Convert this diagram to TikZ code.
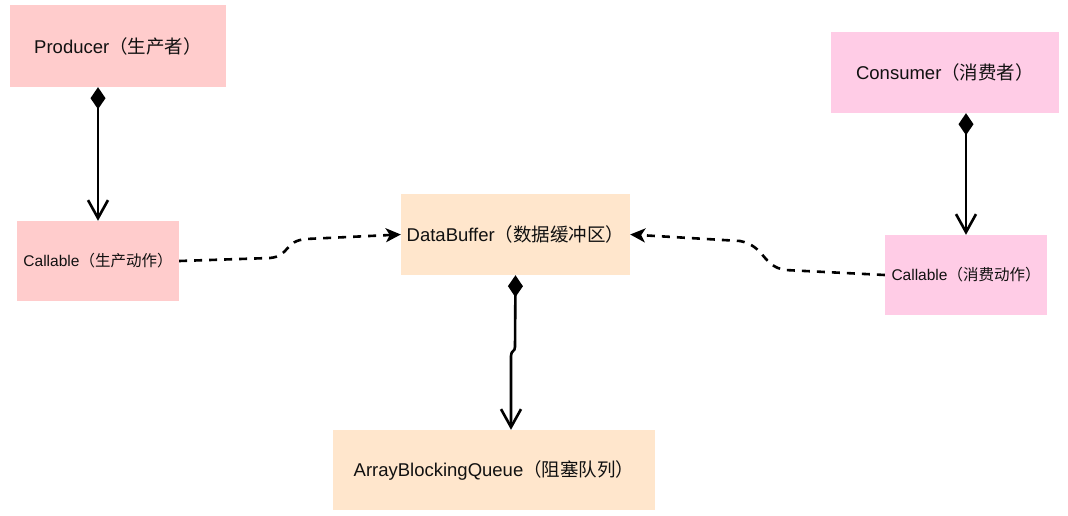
\documentclass[tikz,border=0pt]{standalone}
\usepackage{fontspec}
\setmainfont{Liberation Sans}
\newfontfamily\cjk{Noto Sans CJK SC}
\usetikzlibrary{arrows.meta}
\definecolor{prodfill}{HTML}{FFCCCC}
\definecolor{consfill}{HTML}{FFCCE6}
\definecolor{buffill}{HTML}{FFE6CC}
\definecolor{txt}{HTML}{111111}
\tikzset{
  box/.style={draw=none, inner sep=0pt, text=txt, align=center},
  bigtxt/.style={font=\fontsize{18.5}{21}\selectfont},
  smalltxt/.style={font=\fontsize{15.5}{18}\selectfont},
  comp/.style={line width=2.6pt, {Diamond[length=22pt,width=15pt,fill=black]}-{Straight Barb[length=18pt,width=20pt]}},
  dep/.style={line width=2.6pt, dash pattern=on 8pt off 7pt, -{Stealth[length=15pt,width=14pt,inset=4pt]}}
}
\begin{document}
\begin{tikzpicture}[x=1pt,y=-1pt]
\useasboundingbox (0,0) rectangle (1068,516);
\node[box,bigtxt,fill=prodfill,minimum width=216pt,minimum height=82pt] (producer) at (118,46) {Producer{\cjk（生产者）}};
\node[box,smalltxt,fill=prodfill,minimum width=162pt,minimum height=80pt] (callL) at (98,261) {Callable{\cjk（生产动作）}};
\node[box,bigtxt,fill=consfill,minimum width=228pt,minimum height=81pt] (consumer) at (945,72.5) {Consumer{\cjk（消费者）}};
\node[box,smalltxt,fill=consfill,minimum width=162pt,minimum height=80pt] (callR) at (966,275) {Callable{\cjk（消费动作）}};
\node[box,bigtxt,fill=buffill,minimum width=229pt,minimum height=81pt] (buffer) at (515.5,234.5) {DataBuffer{\cjk（数据缓冲区）}};
\node[box,bigtxt,fill=buffill,minimum width=322pt,minimum height=80pt] (abq) at (494,470) {ArrayBlockingQueue{\cjk（阻塞队列）}};

\draw[comp] (callL.north |- producer.south) -- (callL.north);
\draw[comp] (callR.north |- consumer.south) -- (callR.north);
\draw[comp] (buffer.south) -- (515,347) .. controls (515,352) and (511,350) .. (511,356) -- ([xshift=17pt]abq.north);

\draw[dep] (callL.east) -- (270,258) .. controls (290,256) and (284,241) .. (306,239) -- (buffer.west);
\draw[dep] (callR.west) -- (785,270) .. controls (762,266) and (765,246) .. (740,241) -- (buffer.east);
\end{tikzpicture}
\end{document}
